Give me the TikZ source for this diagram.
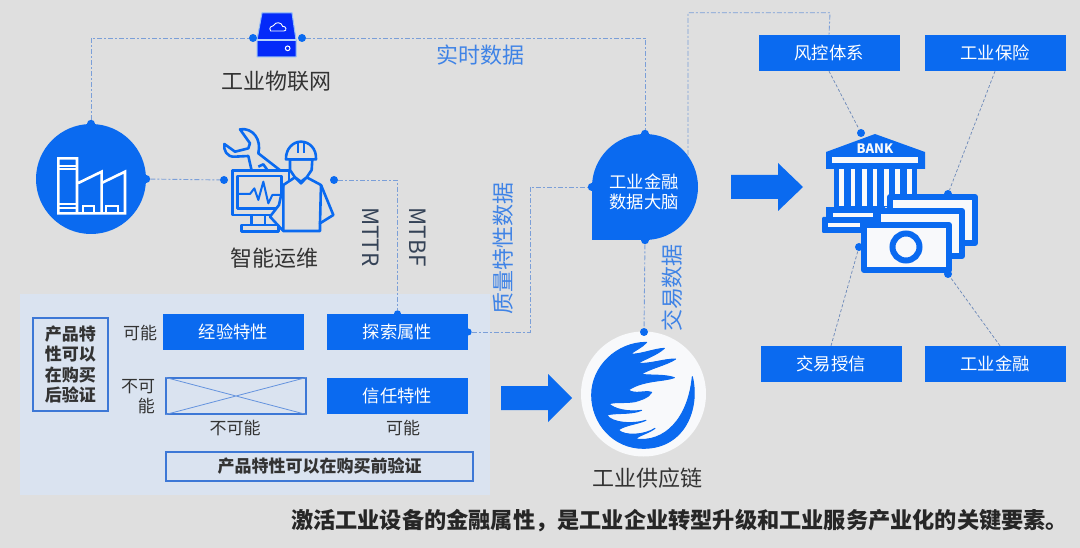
\documentclass[tikz,border=0pt]{standalone}
\usepackage{fontspec}
\setmainfont{Noto Sans CJK SC}
\usetikzlibrary{calc}
\definecolor{bgc}{HTML}{DFDFDF}
\definecolor{panelc}{HTML}{DAE3F0}
\definecolor{mainb}{HTML}{0A6AF0}
\definecolor{linkc}{HTML}{7B9FD8}
\definecolor{darkt}{HTML}{333333}
\definecolor{labelb}{HTML}{3F83E6}
\definecolor{framec}{HTML}{3D78D6}
\definecolor{paper}{HTML}{F8F9FB}
\tikzset{
  link/.style={draw=linkc,line width=.9pt,dash pattern=on 5pt off 2pt on 2pt off 2pt},
  thinlink/.style={draw=linkc!85!black,line width=.7pt,densely dashed},
  bluebox/.style={draw=none,fill=mainb,text=white,font=\fontsize{17.3}{20}\selectfont,minimum width=141pt,minimum height=36pt,inner sep=0pt},
  framebox/.style={draw=framec,line width=1.1pt,inner sep=0pt},
  dark/.style={text=darkt,inner sep=0pt,font=\fontsize{22}{26}\selectfont},
  small/.style={text=darkt,inner sep=0pt,font=\fontsize{17}{20}\selectfont},
  bluelabel/.style={text=labelb,inner sep=0pt,font=\fontsize{22}{26}\selectfont},
  pin/.style={circle,fill=mainb,minimum size=8pt,inner sep=0pt,draw=none},
  iconline/.style={draw=mainb,line width=2.6pt,line join=round,fill=bgc},
  arrowshape/.style={fill=mainb,draw=none},
  note/.style={fill=paper,draw=mainb,line width=6pt,line join=round},
  zoomframe/.style={x=.3333pt,y=-.3333pt},
}
\newcommand{\arrowblk}[6]{\fill[arrowshape] (#1,#3)--(#2,#3)--(#2,#5)--(#6,#4)--(#2,{#4+#4-#5})--(#2,{#4+#4-#3})--(#1,{#4+#4-#3})--cycle;}
\begin{document}
\begin{tikzpicture}[x=1pt,y=-1pt]
\useasboundingbox (0,0) rectangle (1080,548);
\fill[bgc] (0,0) rectangle (1080,548);
\fill[panelc] (20,294) rectangle (490,495);

% ---- factory
\node[circle,fill=mainb,minimum size=110pt,inner sep=0pt] (factory) at (91,179) {};
\begin{scope}[zoomframe,xshift=45pt,yshift=-145pt]
 \draw[white,line width=2.6pt,line join=miter]
  (40,40) rectangle (96,205)
  (96,205)--(240,205)--(240,80)--(170,114)--(170,80)--(100,114)
  (170,114)--(170,205);
 \draw[white,line width=2pt] (40,62)--(96,62) (40,72)--(96,72) (40,176)--(96,176) (40,190)--(96,190);
 \draw[white,line width=2.2pt] (114,205)--(114,182)--(148,182)--(148,205) (184,205)--(184,182)--(218,182)--(218,205);
\end{scope}

% ---- disk
\coordinate (diskc) at (277,35);
\filldraw[fill=blue!60!mainb,draw=mainb!45!white,line width=1pt,line join=round] (262,13)--(292,13)--(296,40)--(296,57)--(257,57)--(257,40)--cycle;
\draw[mainb!30!white,line width=1.2pt] (257,40)--(296,40);
\begin{scope}[zoomframe,xshift=240pt,yshift=-5pt]
 \draw[white,line width=.9pt] (92,78) .. controls (85,68) and (95,62) .. (100,62) .. controls (108,48) and (125,52) .. (128,64) .. controls (138,62) and (142,78) .. (132,78) -- cycle;
 \draw[white,line width=1pt] (143,130) circle (7);
\end{scope}
\node[pin] (diskl) at (253,38) {};
\node[pin] (diskr) at (302,38) {};
\node[dark] (iotlab) at (276,81) {工业物联网};

% ---- worker
\begin{scope}[zoomframe,xshift=215pt,yshift=-120pt]
 \draw[iconline] (75,28) .. controls (115,22) and (140,60) .. (130,100) -- (197,152) -- (110,152) -- (100,108) -- (60,110) .. controls (35,112) and (25,90) .. (28,72) -- (60,95) -- (100,85) -- (105,70) -- cycle;
 \draw[iconline] (130,140) -- (145,133) -- (157,150);
 \draw[iconline] (52,152) rectangle (222,285);
 \draw[iconline] (68,168) rectangle (200,265);
 \draw[iconline,fill=none,line width=2pt] (70,222)--(105,222)--(118,205)--(130,240)--(145,185)--(160,250)--(172,225)--(198,225);
 \draw[iconline] (110,285) rectangle (150,315);
 \draw[iconline] (80,315) rectangle (190,335);
 \draw[iconline] (240,172)--(205,195)--(192,255)--(165,290)--(205,333)--(315,333)--(315,310)--(355,285)--(318,195)--(275,172)--(258,190)--cycle;
 \draw[iconline,fill=none] (318,195)--(315,310) (205,195)--(205,333);
 \draw[iconline] (225,118)--(225,150)--(240,172)--(258,185)--(275,172)--(290,150)--(292,118)--cycle;
 \draw[iconline] (213,118) .. controls (212,85) and (235,65) .. (258,65) .. controls (282,65) and (305,85) .. (303,118) -- cycle;
 \draw[iconline,fill=none,line width=2pt] (248,68)--(248,100) (268,68)--(268,100);
\end{scope}
\node[pin] (workl) at (224,180) {};
\node[pin] (workr) at (334,180) {};
\node[dark] (opslab) at (274,258) {智能运维};

% ---- brain
\node[circle,fill=mainb,minimum size=106pt,inner sep=0pt] (brain) at (645,187) {};
\fill[mainb] (591.5,187) rectangle (645,240);
\node[text=white,align=center,inner sep=0pt,font=\fontsize{17.3}{20.5}\selectfont] (brainlab) at (644,192) {工业金融\\数据大脑};

% ---- supply chain
\node[circle,fill=paper,minimum size=125pt,inner sep=0pt] (chain) at (643.5,394) {};
\begin{scope}[zoomframe,xshift=585pt,yshift=-335pt]
 \filldraw[fill=mainb,draw=mainb,line width=1pt,line join=round] (185,22) .. controls (170,38) and (150,46) .. (135,58)
  .. controls (170,58) and (205,42) .. (238,40)
  .. controls (215,60) and (185,70) .. (157,85)
  .. controls (195,88) and (235,72) .. (272,72)
  .. controls (245,90) and (195,100) .. (168,118)
  .. controls (200,122) and (240,118) .. (268,128)
  .. controls (235,140) and (175,135) .. (130,165)
  .. controls (150,180) and (180,165) .. (200,172)
  .. controls (190,190) and (165,195) .. (150,200)
  .. controls (120,205) and (95,200) .. (72,206)
  .. controls (85,222) and (130,232) .. (170,226)
  .. controls (135,240) and (95,232) .. (65,240)
  .. controls (80,265) and (145,268) .. (183,256)
  .. controls (155,268) and (120,270) .. (100,285)
  .. controls (120,305) and (180,300) .. (210,280)
  .. controls (190,295) and (165,300) .. (150,312)
  .. controls (240,325) and (310,250) .. (322,125)
  .. controls (345,220) and (300,340) .. (175,340)
  .. controls (85,340) and (20,265) .. (20,180)
  .. controls (20,95) and (95,22) .. (185,22) -- cycle;
\end{scope}
\node[pin] (chaintop) at (644,332) {};
\node[dark] (chainlab) at (647,478) {工业供应链};

% ---- bank
\coordinate (bankc) at (875,190);
\fill[mainb] (826,152)--(875,134)--(925,152)--(925,169)--(826,169)--cycle;
\fill[paper] (832,157) rectangle (918,163);
\node[text=paper,inner sep=0pt,font=\fontsize{13}{15}\bfseries\selectfont] (banklab) at (875,148.5) {BANK};
\fill[mainb] (834,169) rectangle (917,207);
\foreach \xx in {839,850.5,862,872.5,884,895,907}{\fill[paper] (\xx,169) rectangle ++(4.8,37);}
\fill[mainb] (826,207) rectangle (885,217);
\fill[mainb,rounded corners=1pt] (822,217) rectangle (880,233);
\fill[paper] (833,213) rectangle (873,217);
\fill[paper] (828,223) rectangle (860,227);
\filldraw[note] (890,197) rectangle (975,243);
\filldraw[note] (878,211) rectangle (962,256);
\filldraw[note] (864,225) rectangle (949,270);
\draw[mainb,line width=6pt] (906,247) circle (13.5);
\node[pin] (bankN) at (861,133) {};
\node[pin] (bankNE) at (948,194) {};
\node[pin] (bankSW) at (859,247) {};
\node[pin] (bankSE) at (948,274) {};

% ---- right boxes
\node[bluebox] (risk) at (829,53) {风控体系};
\node[bluebox] (insur) at (995,53) {工业保险};
\node[bluebox] (credit) at (831,364) {交易授信};
\node[bluebox] (finance) at (995,364) {工业金融};

% ---- matrix
\node[framebox,minimum width=75pt,minimum height=93pt,align=center,text=darkt,font=\fontsize{17}{20.5}\bfseries\selectfont] (after) at (70.5,364.5) {产品特\\性可以\\在购买\\后验证};
\node[small] (can1) at (140,333) {可能};
\node[small,align=right] (cannot1) at (138,396.5) {不可\\\hspace*{1em}能};
\node[bluebox] (exp) at (233.5,332) {经验特性};
\node[bluebox] (search) at (397.5,332) {探索属性};
\node[bluebox] (trust) at (397.5,396) {信任特性};
\node[framebox,minimum width=140pt,minimum height=36pt] (cross) at (236,396) {};
\draw[framec!80!white,line width=.8pt] (cross.north west)--(cross.south east) (cross.north east)--(cross.south west);
\node[small] (cannot2) at (235,428) {不可能};
\node[small] (can2) at (403,428) {可能};
\node[framebox,minimum width=307pt,minimum height=29pt,text=darkt,font=\fontsize{17}{20}\bfseries\selectfont] (before) at (319.5,466.5) {产品特性可以在购买前验证};

\node[pin,minimum size=7pt] (searchN) at (search.north) {};
\node[pin,minimum size=7pt] (searchE) at (search.east) {};
\node[pin] (factN) at (factory.north) {};
\node[pin] (factE) at (factory.east) {};
\node[pin] (brainN) at (brain.north) {};
\node[pin] (brainS) at (brain.south) {};
\node[pin] (brainW) at (brain.west) {};
\coordinate (brainNE) at (688,155);

% ---- connectors
\draw[link] (factN) |- (diskl);
\draw[link] (diskr) -| (brainN);
\draw[link] (brainNE) |- ($(risk.north)+(1,-22)$) -- (risk.north);
\draw[link] (factE) -- (workl);
\draw[link] (workr) -| (searchN);
\draw[link] (searchE) -| (530,187) -- (brainW);
\draw[link] (brainS) -- (chaintop);
\draw[thinlink] (risk.south) -- (bankN);
\draw[thinlink] (insur.south) -- (bankNE);
\draw[thinlink] (credit.north) -- (bankSW);
\draw[thinlink] ($(finance.north)+(5,0)$) -- (bankSE);

% ---- arrows
\arrowblk{501}{548}{386}{398}{374}{572}
\arrowblk{731}{778}{175}{187}{163}{803}

% ---- labels
\node[bluelabel] (rt) at (480,55) {实时数据};
\node[bluelabel,rotate=90] (qual) at (503,249) {质量特性数据};
\node[bluelabel,rotate=90] (trade) at (672,288) {交易数据};
\node[text=darkt!80!labelb,rotate=-90,inner sep=0pt,font=\fontsize{22.5}{26}\selectfont] (mttr) at (371,237) {MTTR};
\node[text=darkt!80!labelb,rotate=-90,inner sep=0pt,font=\fontsize{22.5}{26}\selectfont] (mtbf) at (418,237) {MTBF};
\node[text=black!85,inner sep=0pt,font=\fontsize{22.2}{26}\bfseries\selectfont] (slogan) at (679.5,521) {激活工业设备的金融属性，是工业企业转型升级和工业服务产业化的关键要素。};
\end{tikzpicture}
\end{document}
